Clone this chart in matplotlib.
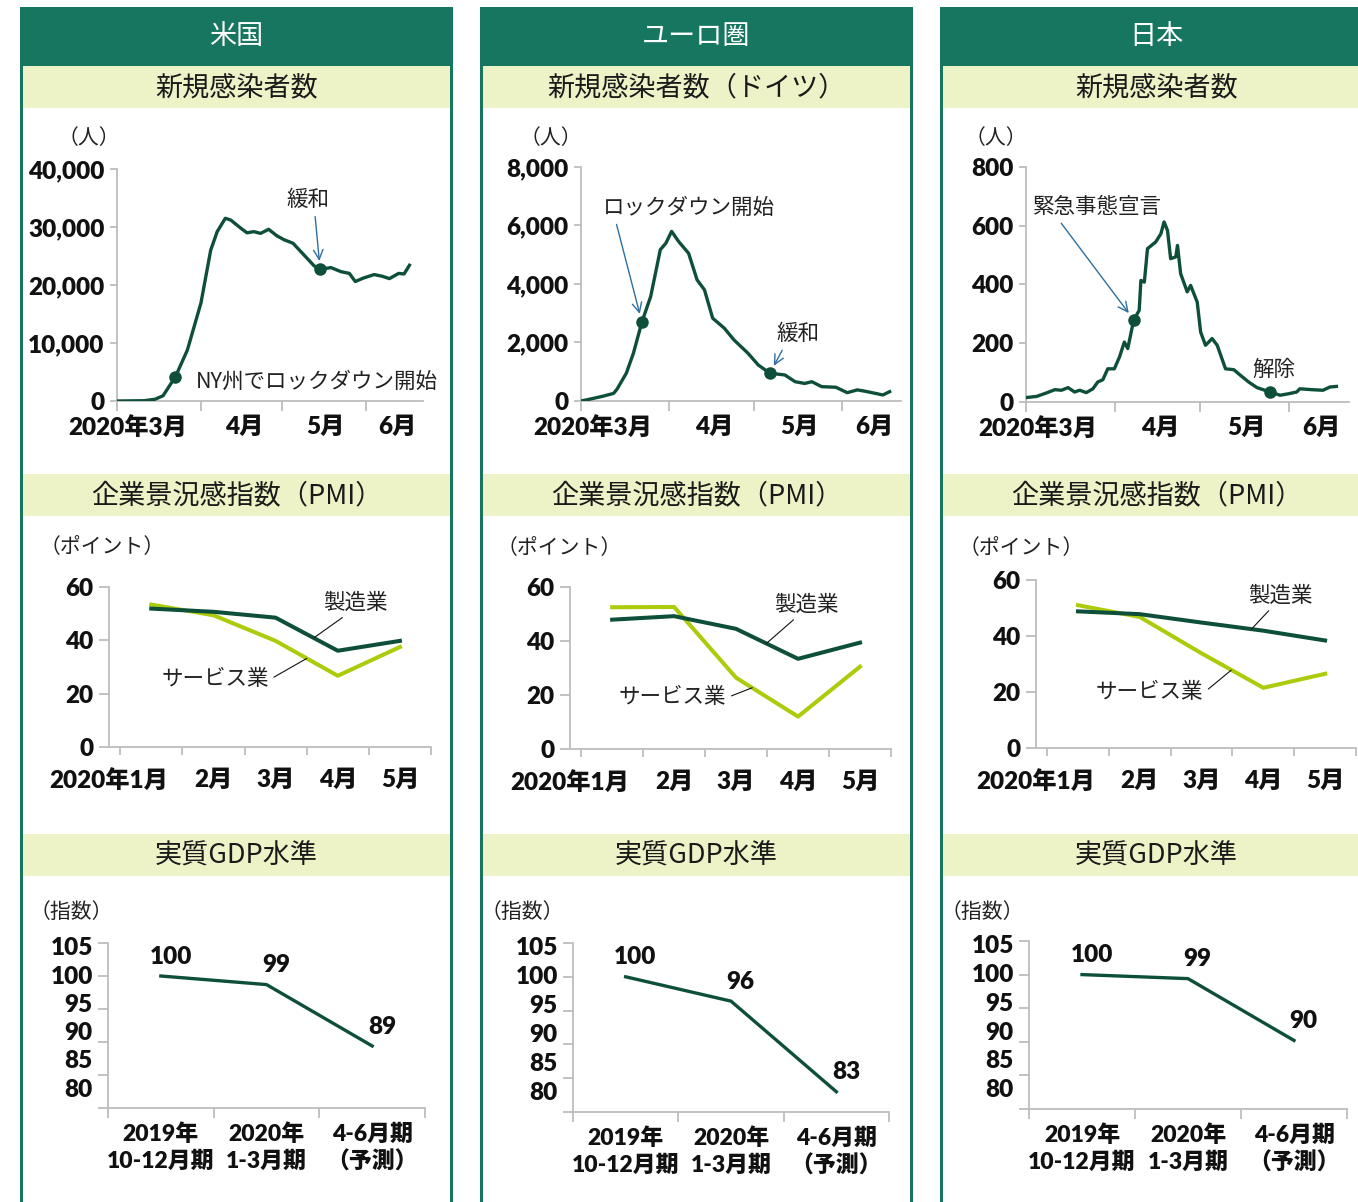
import matplotlib
matplotlib.use("Agg")
import matplotlib.pyplot as plt
from matplotlib.patches import Rectangle
from matplotlib.ticker import StrMethodFormatter
import numpy as np

plt.rcParams['font.family'] = ['Lato', 'Noto Sans CJK JP']
plt.rcParams['font.weight'] = 'heavy'

W, H = 1358, 1202
TEAL = '#17765f'
BAND = '#edf2c7'
DARK = '#0d4f3a'
LIME = '#aacc0a'
BLUE = '#2f6f9f'
GRAY = '#bdbdbd'
JP = ['Noto Sans CJK JP', 'DejaVu Sans']

# ---- データ ----
regions = ['米国', 'ユーロ圏', '日本']
case_titles = ['新規感染者数', '新規感染者数（ドイツ）', '新規感染者数']
pmi_title = '企業景況感指数（PMI）'
gdp_title = '実質GDP水準'

# 新規感染者数（2020年3月1日からの日数, 人）
us_days = [0, 10, 14, 17, 21.6, 26, 31, 34.6, 37, 40, 42, 45.7, 48, 50.5, 53, 56,
           59, 61.7, 65, 69, 72.8, 75, 79, 82.7, 85.8, 88, 91, 95, 98, 100.6, 104, 106, 108]
us_cases = [0, 50, 300, 900, 4200, 8800, 16900, 26000, 29200, 31500, 31200, 29800, 29000,
            29200, 28900, 29600, 28500, 27800, 27200, 25200, 23300, 22700, 23000, 22300,
            22000, 20600, 21200, 21800, 21500, 21100, 22000, 21900, 23400]

de_days = [0, 3, 8, 11.5, 12.7, 16, 18.5, 21.5, 24.6, 28, 30, 32, 34.5, 38, 41, 43.6, 46.5,
           50.6, 54, 59, 62.6, 66.7, 72, 75.6, 79, 81.5, 85, 90, 94, 97.6, 100.5, 104, 106.6, 109]
de_cases = [0, 60, 170, 260, 400, 950, 1630, 2700, 3570, 5170, 5400, 5800, 5450, 5050, 4140,
            3800, 2830, 2490, 2090, 1630, 1230, 950, 890, 660, 600, 660, 490, 470, 285, 380,
            330, 260, 205, 320]

jp_days = [0, 3.7, 7.2, 10.1, 12.4, 14.7, 17.0, 18.8, 21.1, 23.4, 25.1, 26.9, 28.6, 30.9, 32.7,
           34.4, 35.6, 37.7, 39.6, 40.2, 41.4, 42.5, 45.4, 47.2, 48.3, 49.5, 50.6, 52.4, 53.0,
           54.1, 56.4, 57.6, 59.9, 61.1, 62.8, 65.1, 66.9, 69.8, 72.7, 75.0, 77.9, 80.8, 85.4,
           88.9, 91.8, 94.7, 95.8, 99.9, 103.9, 106.3, 108.6]
jp_cases = [15, 19, 31, 42, 40, 49, 34, 40, 32, 45, 68, 76, 113, 113, 153, 204, 182, 280, 312,
            414, 408, 522, 545, 573, 613, 584, 488, 494, 533, 437, 375, 397, 340, 238, 193, 216,
            193, 113, 110, 91, 68, 49, 34, 23, 28, 34, 45, 42, 40, 51, 53]

# イベント（日数, 人数, ラベル）
us_ev_days = [21.6, 75]
us_ev_vals = [4200, 22700]
us_ev_labels = ['NY州でロックダウン開始', '緩和']
de_ev_days = [21.5, 66.7]
de_ev_vals = [2700, 950]
de_ev_labels = ['ロックダウン開始', '緩和']
jp_ev_days = [37.7, 85.4]
jp_ev_vals = [280, 34]
jp_ev_labels = ['緊急事態宣言', '解除']

case_ymax = [40000, 8000, 800]
month_ticks = [0, 31, 61, 92]
month_labels = ['2020年3月', '4月', '5月', '6月']

# PMI
pmi_months = ['2020年1月', '2月', '3月', '4月', '5月']
us_pmi_mfg = [51.9, 50.7, 48.5, 36.1, 39.8]
us_pmi_svc = [53.4, 49.4, 39.8, 26.7, 37.5]
ez_pmi_mfg = [47.9, 49.2, 44.5, 33.4, 39.4]
ez_pmi_svc = [52.5, 52.6, 26.4, 12.0, 30.5]
jp_pmi_mfg = [48.8, 47.8, 44.8, 41.9, 38.4]
jp_pmi_svc = [51.0, 46.8, 33.8, 21.5, 26.5]

# 実質GDP水準
gdp_quarters = ['2019年\n10-12月期', '2020年\n1-3月期', '4-6月期\n（予測）']
us_gdp = [100, 98.7, 89.4]
ez_gdp = [100, 96.4, 83.0]
jp_gdp = [100, 99.4, 90.2]
gdp_ticks = [80, 85, 90, 95, 100, 105]

# ---- レイアウト（ピクセル） ----
col_left = [20, 480, 940]
col_w = 433
case_rect = [(117, 169, 423, 401), (581, 167, 901, 401), (1026, 167, 1349, 402)]
pmi_rect = [(109, 587, 431, 747), (570, 587, 891, 749), (1036, 580, 1356, 748)]
gdp_rect = [(108, 943, 425, 1108), (573, 943, 889, 1112), (1029, 941, 1347, 1109)]
unit_person = [(89, 138), (551, 138), (996, 138)]
unit_point = [(102, 547), (559, 548), (1021, 548)]
unit_index = [(71, 912), (522, 912), (982, 912)]
case_label_x = [4, 47, 77, 103.5]
pmi_label_x = [-0.68, 1, 2, 3, 4]
gdp_label_y = np.linspace(104.2, 82.8, 6)
# 注記位置 (x, y, ha, 矢印の起点)
case_notes = [
    [(29, 3300, 'left', None), (70.6, 34660, 'center', (0.65, 0))],
    [(7.8, 6600, 'left', (0.07, 0)), (76.6, 2290, 'center', (0.2, 0))],
    [(25, 663, 'center', (0.19, 0)), (86.8, 109, 'center', None)],
]
# (製造業テキスト, 製造業線, サービス業テキスト右端, サービス業線)
pmi_notes = [
    ((3.29, 54), (2.62, 41.0), (1.89, 25.5), (2.5, 33.2)),
    ((3.13, 53.3), (2.49, 39.1), (1.84, 19.3), (2.26, 22.7)),
    ((3.28, 54.3), (2.81, 42.5), (2.03, 20.0), (2.48, 27.8)),
]
NOTE_SIZE = 15.5
TITLE_SIZE = 19.5

fig = plt.figure(figsize=(W / 100, H / 100), dpi=100)


def fx(x):
    return x / W


def fy(y):
    return 1 - y / H


def box(l, t, r, b, color):
    fig.add_artist(Rectangle((fx(l), fy(b)), (r - l) / W, (b - t) / H, transform=fig.transFigure,
                             facecolor=color, edgecolor='none', zorder=0))


def add_ax(rect):
    l, t, r, b = rect
    ax = fig.add_axes([fx(l), fy(b), (r - l) / W, (b - t) / H])
    ax.set_facecolor('none')
    for s in ['top', 'right']:
        ax.spines[s].set_visible(False)
    for s in ['left', 'bottom']:
        ax.spines[s].set_color(GRAY)
        ax.spines[s].set_linewidth(1.3)
    ax.tick_params(which='both', colors=GRAY, labelcolor='#111111', width=1.3, labelsize=17.5)
    return ax


def note(x, y, s, ha='center', va='center', size=15):
    fig.text(fx(x), fy(y), s, ha=ha, va=va, fontsize=size, family=JP, fontweight='normal', color='#222222')


# 枠とタイトル
for i, ox in enumerate(col_left):
    box(ox, 7, ox + col_w, 66, TEAL)
    box(ox, 66, ox + 3, H + 5, TEAL)
    box(ox + col_w - 3, 66, ox + col_w, H + 5, TEAL)
    cx = ox + col_w / 2
    fig.text(fx(cx), fy(37), regions[i], color='white', fontsize=TITLE_SIZE, family=JP, fontweight='normal',
             ha='center', va='center')
    for (t, b), title in zip([(66, 108), (474, 516), (834, 876)], [case_titles[i], pmi_title, gdp_title]):
        box(ox + 3, t, ox + col_w - 3, b, BAND)
        fig.text(fx(cx), fy((t + b) / 2 + 1), title, color='#1a1a1a', fontsize=TITLE_SIZE, family=JP,
                 fontweight='normal', ha='center', va='center')
    note(*unit_person[i], '（人）')
    note(*unit_point[i], '（ポイント）')
    note(*unit_index[i], '（指数）')

# 新規感染者数
case_data = [(us_days, us_cases, us_ev_days, us_ev_vals, us_ev_labels),
             (de_days, de_cases, de_ev_days, de_ev_vals, de_ev_labels),
             (jp_days, jp_cases, jp_ev_days, jp_ev_vals, jp_ev_labels)]
for i, (days, cases, ev_d, ev_v, ev_l) in enumerate(case_data):
    ax = add_ax(case_rect[i])
    ax.plot(days, cases, color=DARK, lw=2.4, solid_joinstyle='round', zorder=3)
    ax.plot(ev_d, ev_v, 'o', color=DARK, ms=8, zorder=4)
    ax.set_xlim(0, 113)
    ax.set_ylim(0, case_ymax[i])
    ax.set_yticks(np.linspace(0, case_ymax[i], 5))
    ax.yaxis.set_major_formatter(StrMethodFormatter('{x:,.0f}'))
    ax.set_xticks(month_ticks, labels=[''] * len(month_ticks))
    ax.set_xticks(case_label_x, labels=month_labels, minor=True)
    ax.tick_params(axis='y', length=5, pad=4)
    ax.tick_params(axis='x', which='major', length=7)
    ax.tick_params(axis='x', which='minor', length=0, pad=11)
    for (tx, ty, ha, rel), d, v, lab in zip(case_notes[i], ev_d, ev_v, ev_l):
        if rel is None:
            ax.text(tx, ty, lab, ha=ha, va='center', fontsize=NOTE_SIZE, family=JP, fontweight='normal',
                    color='#222222', zorder=5)
        else:
            ax.annotate(lab, xy=(d, v), xytext=(tx, ty), ha=ha, va='center', fontsize=NOTE_SIZE, family=JP,
                        fontweight='normal', color='#222222', zorder=5,
                        arrowprops=dict(arrowstyle='->,head_length=0.45,head_width=0.22', color=BLUE,
                                        lw=1.0, relpos=rel, shrinkA=2, shrinkB=6))

# PMI
pmi_data = [(us_pmi_mfg, us_pmi_svc), (ez_pmi_mfg, ez_pmi_svc), (jp_pmi_mfg, jp_pmi_svc)]
for i, (mfg, svc) in enumerate(pmi_data):
    ax = add_ax(pmi_rect[i])
    x = np.arange(len(pmi_months))
    ax.plot(x, svc, color=LIME, lw=2.9, zorder=3)
    ax.plot(x, mfg, color=DARK, lw=2.9, zorder=3)
    ax.set_xlim(-0.5, len(pmi_months) - 0.5)
    ax.set_ylim(0, 60)
    ax.set_yticks([0, 20, 40, 60])
    ax.set_xticks(np.arange(-0.5, len(pmi_months), 1), labels=[''] * (len(pmi_months) + 1))
    ax.set_xticks(pmi_label_x, labels=pmi_months, minor=True)
    ax.tick_params(axis='y', length=7, pad=4)
    ax.tick_params(axis='x', which='major', length=6)
    ax.tick_params(axis='x', which='minor', length=0, pad=16)
    mt, mp, st, sp = pmi_notes[i]
    ax.annotate('製造業', xy=mp, xytext=mt, ha='center', va='center', fontsize=NOTE_SIZE, family=JP,
                fontweight='normal', color='#222222',
                arrowprops=dict(arrowstyle='-', color='#111111', lw=0.8, relpos=(0.37, 0), shrinkA=1, shrinkB=0))
    ax.annotate('サービス業', xy=sp, xytext=st, ha='right', va='center', fontsize=NOTE_SIZE, family=JP,
                fontweight='normal', color='#222222',
                arrowprops=dict(arrowstyle='-', color='#111111', lw=0.8, relpos=(1, 0.45), shrinkA=2, shrinkB=0))

# 実質GDP水準
for i, vals in enumerate([us_gdp, ez_gdp, jp_gdp]):
    ax = add_ax(gdp_rect[i])
    x = np.arange(len(gdp_quarters))
    ax.plot(x, vals, color=DARK, lw=2.4, zorder=3)
    for xi, v in zip(x, vals):
        ax.annotate(f'{v:.0f}', (xi, v), xytext=(7, 14), textcoords='offset points', ha='center',
                    va='center', fontsize=17.5, color='#111111')
    ax.set_xlim(-0.5, len(gdp_quarters) - 0.5)
    ax.set_ylim(80, 105)
    ax.set_yticks(gdp_ticks, labels=[''] * len(gdp_ticks))
    for lab, yp in zip(gdp_ticks[::-1], gdp_label_y):
        ax.annotate(str(lab), xy=(0, yp), xycoords=('axes fraction', 'data'), xytext=(-11, 0),
                    textcoords='offset points', ha='right', va='center', fontsize=17.5, color='#111111')
    ax.set_xticks(np.arange(-0.5, len(gdp_quarters), 1), labels=[''] * (len(gdp_quarters) + 1))
    ax.set_xticks(x, labels=gdp_quarters, minor=True)
    ax.tick_params(axis='y', length=7)
    ax.tick_params(axis='x', which='major', length=7)
    ax.tick_params(axis='x', which='minor', length=0, pad=11, labelsize=16.5)
    for t in ax.get_xticklabels(minor=True):
        t.set_linespacing(1.35)

fig.savefig('out.png', dpi=100, facecolor='white')
